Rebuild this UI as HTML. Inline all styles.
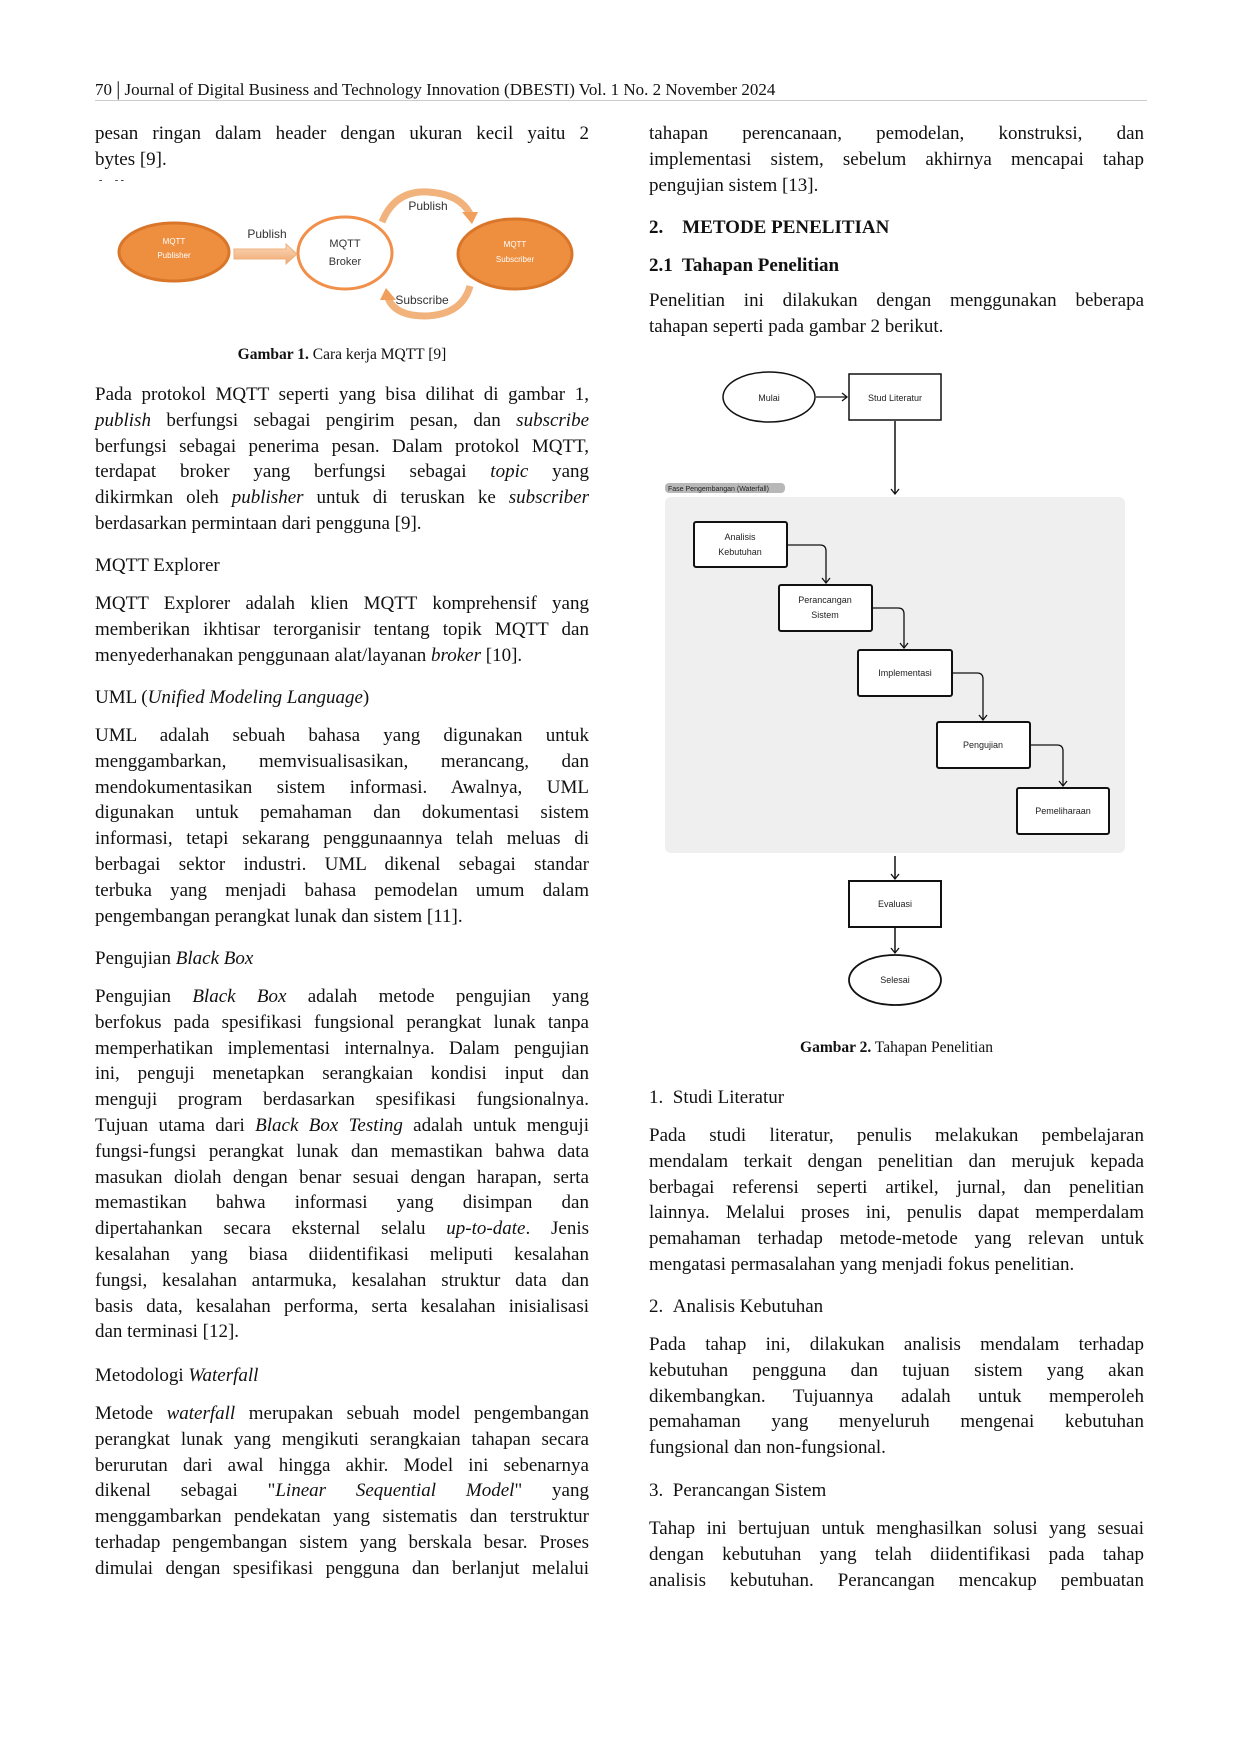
<!DOCTYPE html>
<html><head><meta charset="utf-8">
<style>
*{margin:0;padding:0;box-sizing:border-box}
body{width:1240px;height:1754px;background:#fff;position:relative;overflow:hidden;font-family:"Liberation Serif",serif;color:#111}
.l{position:absolute;font-size:19px;line-height:26px;white-space:nowrap}
.L{left:95px;width:494px}
.R{left:649px;width:495px}
.p{position:absolute;font-size:19px;line-height:25.8px}
.p div{height:25.8px;white-space:nowrap}
.p div.j{white-space:normal;text-align:justify;text-align-last:justify}
svg{position:absolute;left:0;top:0}
</style></head><body>
<div class="l" style="left:95px;top:76px;font-size:17px">70 <b style="font-weight:normal;font-size:20px">|</b> Journal of Digital Business and Technology Innovation (DBESTI) Vol. 1 No. 2 November 2024</div>
<div style="position:absolute;left:95px;top:100px;width:1052px;height:1px;background:#ccc"></div>

<div class="p L" style="top:121px"><div class="j">pesan ringan dalam header dengan ukuran kecil yaitu 2</div><div>bytes [9].</div></div>
<div class="l" style="left:99px;top:176px;font-size:10px;line-height:10px">-&nbsp;&nbsp;&nbsp;&nbsp;&nbsp;-&nbsp;-</div>
<div class="l" style="left:95px;width:494px;text-align:center;top:342px;font-size:15.5px"><b>Gambar 1.</b> Cara kerja MQTT [9]</div>

<div class="p L" style="top:382px">
<div class="j">Pada protokol MQTT seperti yang bisa dilihat di gambar 1,</div>
<div class="j"><i>publish</i> berfungsi sebagai pengirim pesan, dan <i>subscribe</i></div>
<div class="j">berfungsi sebagai penerima pesan. Dalam protokol MQTT,</div>
<div class="j">terdapat broker yang berfungsi sebagai <i>topic</i> yang</div>
<div class="j">dikirmkan oleh <i>publisher</i> untuk di teruskan ke <i>subscriber</i></div>
<div>berdasarkan permintaan dari pengguna [9].</div></div>
<div class="l" style="left:95px;top:553px">MQTT Explorer</div>
<div class="p L" style="top:591px">
<div class="j">MQTT Explorer adalah klien MQTT komprehensif yang</div>
<div class="j">memberikan ikhtisar terorganisir tentang topik MQTT dan</div>
<div>menyederhanakan penggunaan alat/layanan <i>broker</i> [10].</div></div>
<div class="l" style="left:95px;top:685px">UML (<i>Unified Modeling Language</i>)</div>
<div class="p L" style="top:723px">
<div class="j">UML adalah sebuah bahasa yang digunakan untuk</div>
<div class="j">menggambarkan, memvisualisasikan, merancang, dan</div>
<div class="j">mendokumentasikan sistem informasi. Awalnya, UML</div>
<div class="j">digunakan untuk pemahaman dan dokumentasi sistem</div>
<div class="j">informasi, tetapi sekarang penggunaannya telah meluas di</div>
<div class="j">berbagai sektor industri. UML dikenal sebagai standar</div>
<div class="j">terbuka yang menjadi bahasa pemodelan umum dalam</div>
<div>pengembangan perangkat lunak dan sistem [11].</div></div>
<div class="l" style="left:95px;top:946px">Pengujian <i>Black Box</i></div>
<div class="p L" style="top:984px">
<div class="j">Pengujian <i>Black Box</i> adalah metode pengujian yang</div>
<div class="j">berfokus pada spesifikasi fungsional perangkat lunak tanpa</div>
<div class="j">memperhatikan implementasi internalnya. Dalam pengujian</div>
<div class="j">ini, penguji menetapkan serangkaian kondisi input dan</div>
<div class="j">menguji program berdasarkan spesifikasi fungsionalnya.</div>
<div class="j">Tujuan utama dari <i>Black Box Testing</i> adalah untuk menguji</div>
<div class="j">fungsi-fungsi perangkat lunak dan memastikan bahwa data</div>
<div class="j">masukan diolah dengan benar sesuai dengan harapan, serta</div>
<div class="j">memastikan bahwa informasi yang disimpan dan</div>
<div class="j">dipertahankan secara eksternal selalu <i>up-to-date</i>. Jenis</div>
<div class="j">kesalahan yang biasa diidentifikasi meliputi kesalahan</div>
<div class="j">fungsi, kesalahan antarmuka, kesalahan struktur data dan</div>
<div class="j">basis data, kesalahan performa, serta kesalahan inisialisasi</div>
<div>dan terminasi [12].</div></div>
<div class="l" style="left:95px;top:1363px">Metodologi <i>Waterfall</i></div>
<div class="p L" style="top:1401px">
<div class="j">Metode <i>waterfall</i> merupakan sebuah model pengembangan</div>
<div class="j">perangkat lunak yang mengikuti serangkaian tahapan secara</div>
<div class="j">berurutan dari awal hingga akhir. Model ini sebenarnya</div>
<div class="j">dikenal sebagai "<i>Linear Sequential Model</i>" yang</div>
<div class="j">menggambarkan pendekatan yang sistematis dan terstruktur</div>
<div class="j">terhadap pengembangan sistem yang berskala besar. Proses</div>
<div class="j">dimulai dengan spesifikasi pengguna dan berlanjut melalui</div></div>

<div class="p R" style="top:121px">
<div class="j">tahapan perencanaan, pemodelan, konstruksi, dan</div>
<div class="j">implementasi sistem, sebelum akhirnya mencapai tahap</div>
<div>pengujian sistem [13].</div></div>
<div class="l" style="left:649px;top:215px;font-weight:bold">2.&nbsp;&nbsp;&nbsp;&nbsp;METODE PENELITIAN</div>
<div class="l" style="left:649px;top:253px;font-weight:bold">2.1&nbsp; Tahapan Penelitian</div>
<div class="p R" style="top:288px">
<div class="j">Penelitian ini dilakukan dengan menggunakan beberapa</div>
<div>tahapan seperti pada gambar 2 berikut.</div></div>
<div class="l" style="left:649px;width:495px;text-align:center;top:1035px;font-size:15.5px"><b>Gambar 2.</b> Tahapan Penelitian</div>
<div class="l" style="left:649px;top:1085px">1.&nbsp;&nbsp;Studi Literatur</div>
<div class="p R" style="top:1123px">
<div class="j">Pada studi literatur, penulis melakukan pembelajaran</div>
<div class="j">mendalam terkait dengan penelitian dan merujuk kepada</div>
<div class="j">berbagai referensi seperti artikel, jurnal, dan penelitian</div>
<div class="j">lainnya. Melalui proses ini, penulis dapat memperdalam</div>
<div class="j">pemahaman terhadap metode-metode yang relevan untuk</div>
<div>mengatasi permasalahan yang menjadi fokus penelitian.</div></div>
<div class="l" style="left:649px;top:1294px">2.&nbsp;&nbsp;Analisis Kebutuhan</div>
<div class="p R" style="top:1332px">
<div class="j">Pada tahap ini, dilakukan analisis mendalam terhadap</div>
<div class="j">kebutuhan pengguna dan tujuan sistem yang akan</div>
<div class="j">dikembangkan. Tujuannya adalah untuk memperoleh</div>
<div class="j">pemahaman yang menyeluruh mengenai kebutuhan</div>
<div>fungsional dan non-fungsional.</div></div>
<div class="l" style="left:649px;top:1478px">3.&nbsp;&nbsp;Perancangan Sistem</div>
<div class="p R" style="top:1516px">
<div class="j">Tahap ini bertujuan untuk menghasilkan solusi yang sesuai</div>
<div class="j">dengan kebutuhan yang telah diidentifikasi pada tahap</div>
<div class="j">analisis kebutuhan. Perancangan mencakup pembuatan</div></div>

<svg width="1240" height="1754" viewBox="0 0 1240 1754" font-family="Liberation Sans, DejaVu Sans, sans-serif">
<defs>
<linearGradient id="ga" x1="0" y1="0" x2="0" y2="1"><stop offset="0" stop-color="#fbd9bd"/><stop offset="1" stop-color="#f0a86e"/></linearGradient>
<marker id="ahr" markerWidth="10" markerHeight="10" refX="8" refY="5" orient="auto" markerUnits="userSpaceOnUse"><path d="M3,1 L8,5 L3,9" fill="none" stroke="#111" stroke-width="1.3"/></marker>
</defs>
<!-- Figure 1 -->
<ellipse cx="174" cy="252" rx="55" ry="29" fill="#ee8f40" stroke="#d9762a" stroke-width="3"/>
<text x="174" y="244" font-size="8" fill="#fff" text-anchor="middle">MQTT</text>
<text x="174" y="258" font-size="8" fill="#fff" text-anchor="middle">Publisher</text>
<ellipse cx="345" cy="253" rx="47" ry="36" fill="#fff" stroke="#f0904a" stroke-width="3"/>
<text x="345" y="247" font-size="11" fill="#333" text-anchor="middle">MQTT</text>
<text x="345" y="265" font-size="11" fill="#333" text-anchor="middle">Broker</text>
<ellipse cx="515" cy="254" rx="57" ry="35" fill="#ee8f40" stroke="#d9762a" stroke-width="3"/>
<text x="515" y="247" font-size="8" fill="#fff" text-anchor="middle">MQTT</text>
<text x="515" y="262" font-size="8" fill="#fff" text-anchor="middle">Subscriber</text>
<path d="M234,249 L286,249 L286,244 L297,254 L286,264 L286,259 L234,259 Z" fill="url(#ga)" stroke="#eeb07c" stroke-width="1"/>
<text x="267" y="238" font-size="12" fill="#333" text-anchor="middle">Publish</text>
<path d="M382,222 Q395,190 428,192 Q460,194 470,214" fill="none" stroke="#f1b27c" stroke-width="7"/>
<path d="M462,212 L478,212 L472,224 Z" fill="#f0a05c"/>
<text x="428" y="210" font-size="12" fill="#333" text-anchor="middle">Publish</text>
<path d="M470,286 Q462,315 425,316 Q395,316 388,298" fill="none" stroke="#f1b27c" stroke-width="7"/>
<path d="M380,300 L396,300 L386,288 Z" fill="#f0a05c"/>
<text x="422" y="304" font-size="12" fill="#333" text-anchor="middle">Subscribe</text>
<!-- Figure 2 -->
<rect x="665" y="497" width="460" height="356" rx="6" fill="#efefef"/>
<rect x="665" y="483" width="120" height="10" rx="4" fill="#b8b8b8"/>
<text x="668" y="491" font-size="7" fill="#222">Fase Pengembangan (Waterfall)</text>
<ellipse cx="769" cy="397" rx="46" ry="25" fill="#fff" stroke="#111" stroke-width="1.5"/>
<text x="769" y="401" font-size="9" text-anchor="middle" fill="#222">Mulai</text>
<rect x="849" y="374" width="92" height="46" fill="#fff" stroke="#111" stroke-width="1.5"/>
<text x="895" y="401" font-size="9" text-anchor="middle" fill="#222">Stud  Literatur</text>
<line x1="816" y1="397" x2="847" y2="397" stroke="#111" stroke-width="1.3" marker-end="url(#ahr)"/>
<line x1="895" y1="421" x2="895" y2="494" stroke="#111" stroke-width="1.5" marker-end="url(#ahr)"/>
<g fill="#fff" stroke="#111" stroke-width="2">
<rect x="694" y="522" width="93" height="45" rx="2"/>
<rect x="779" y="585" width="93" height="46" rx="2"/>
<rect x="858" y="650" width="94" height="46" rx="2"/>
<rect x="937" y="722" width="93" height="46" rx="2"/>
<rect x="1017" y="788" width="92" height="46" rx="2"/>
</g>
<g font-size="9" text-anchor="middle" fill="#222">
<text x="740" y="540">Analisis</text><text x="740" y="555">Kebutuhan</text>
<text x="825" y="603">Perancangan</text><text x="825" y="618">Sistem</text>
<text x="905" y="676">Implementasi</text>
<text x="983" y="748">Pengujian</text>
<text x="1063" y="814">Pemeliharaan</text>
</g>
<g fill="none" stroke="#111" stroke-width="1.3">
<path d="M787,545 L820,545 Q826,545 826,551 L826,583" marker-end="url(#ahr)"/>
<path d="M872,608 L898,608 Q904,608 904,614 L904,648" marker-end="url(#ahr)"/>
<path d="M952,673 L977,673 Q983,673 983,679 L983,720" marker-end="url(#ahr)"/>
<path d="M1030,745 L1057,745 Q1063,745 1063,751 L1063,786" marker-end="url(#ahr)"/>
</g>
<line x1="895" y1="856" x2="895" y2="879" stroke="#111" stroke-width="1.5" marker-end="url(#ahr)"/>
<rect x="849" y="881" width="92" height="46" fill="#fff" stroke="#111" stroke-width="2"/>
<text x="895" y="907" font-size="9" text-anchor="middle" fill="#222">Evaluasi</text>
<line x1="895" y1="928" x2="895" y2="953" stroke="#111" stroke-width="1.5" marker-end="url(#ahr)"/>
<ellipse cx="895" cy="980" rx="46" ry="25" fill="#fff" stroke="#111" stroke-width="1.8"/>
<text x="895" y="983" font-size="9" text-anchor="middle" fill="#222">Selesai</text>
</svg>
</body></html>
